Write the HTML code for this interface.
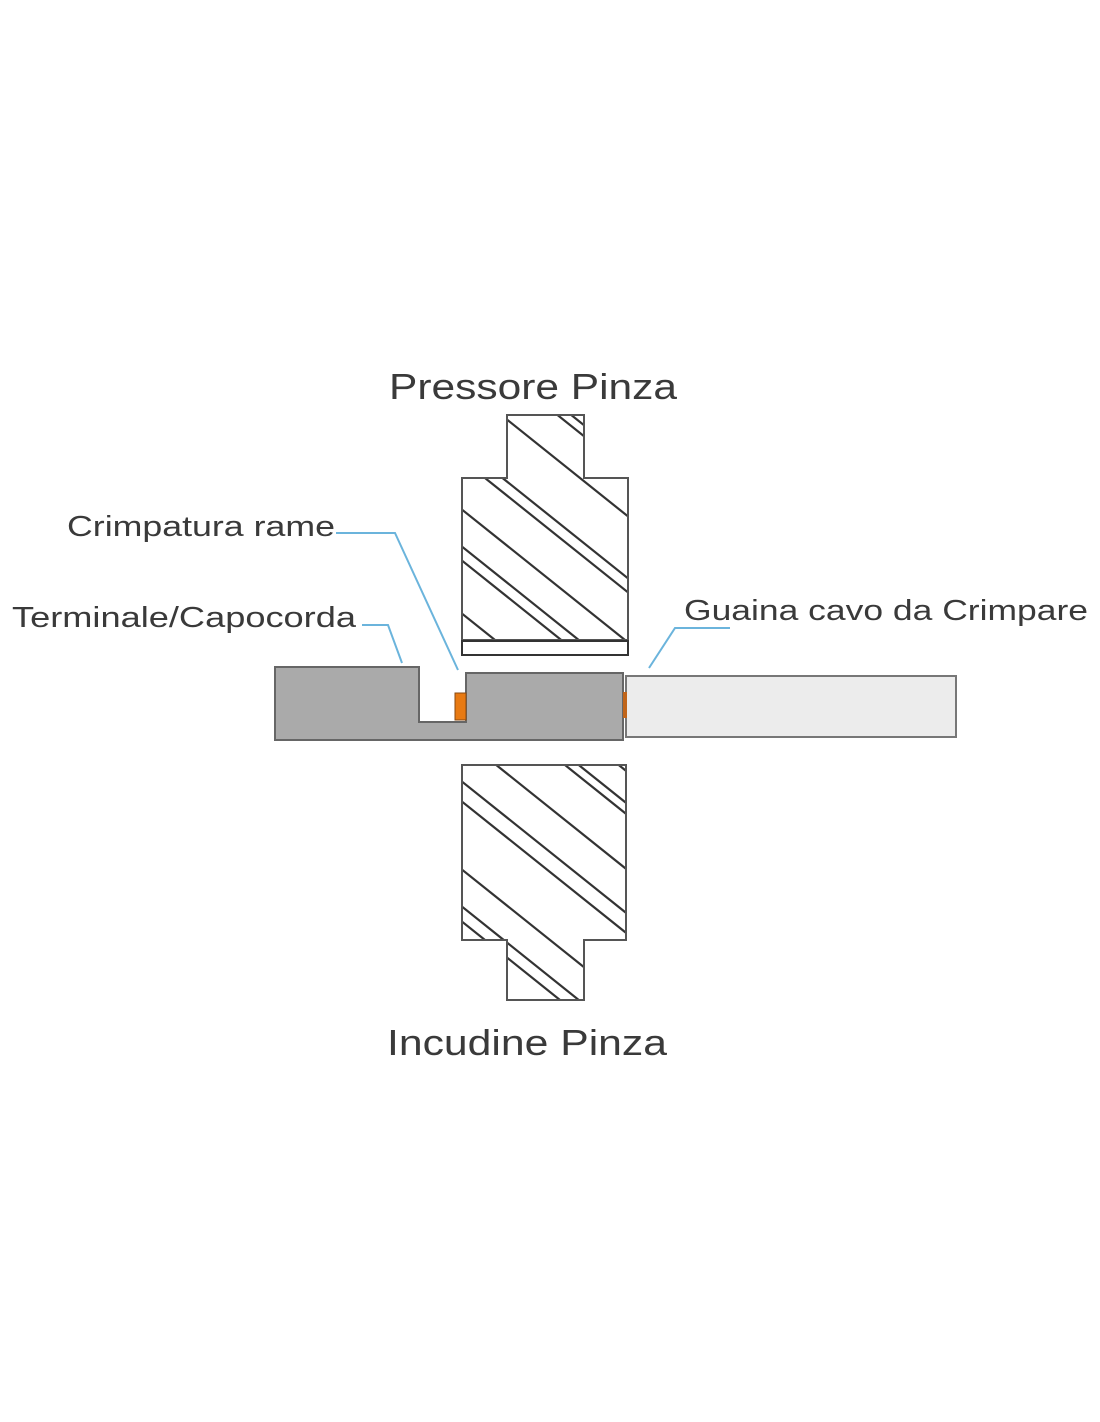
<!DOCTYPE html>
<html><head><meta charset="utf-8"><style>
html,body{margin:0;padding:0;background:#fff;}
svg{display:block;}
text{font-family:"Liberation Sans",sans-serif;fill:#3a3a3a;}
</style></head><body>
<svg width="1100" height="1422" viewBox="0 0 1100 1422" xmlns="http://www.w3.org/2000/svg">
<defs>
<clipPath id="up"><polygon points="507,415 584,415 584,478 628,478 628,640 462,640 462,478 507,478"/></clipPath>
<clipPath id="dn"><polygon points="462,765 626,765 626,940 584,940 584,1000 507,1000 507,940 462,940"/></clipPath>
</defs>
<rect width="1100" height="1422" fill="#fff"/>

<text x="389" y="399" font-size="36" textLength="288" lengthAdjust="spacingAndGlyphs">Pressore Pinza</text>
<text x="387" y="1055" font-size="36" textLength="280" lengthAdjust="spacingAndGlyphs">Incudine Pinza</text>
<text x="67" y="536" font-size="29" textLength="268" lengthAdjust="spacingAndGlyphs">Crimpatura rame</text>
<text x="12" y="627" font-size="29" textLength="344" lengthAdjust="spacingAndGlyphs">Terminale/Capocorda</text>
<text x="684" y="620" font-size="29" textLength="404" lengthAdjust="spacingAndGlyphs">Guaina cavo da Crimpare</text>

<!-- upper pressor -->
<g clip-path="url(#up)" stroke="#333" stroke-width="2.2">
<line x1="400" y1="278" x2="700" y2="518"/>
<line x1="400" y1="289" x2="700" y2="529"/>
<line x1="400" y1="334" x2="700" y2="574"/>
<line x1="400" y1="396" x2="700" y2="636"/>
<line x1="400" y1="410" x2="700" y2="650"/>
<line x1="400" y1="460" x2="700" y2="700"/>
<line x1="400" y1="497" x2="700" y2="737"/>
<line x1="400" y1="511" x2="700" y2="751"/>
<line x1="400" y1="564" x2="700" y2="804"/>
</g>
<polygon points="507,415 584,415 584,478 628,478 628,640 462,640 462,478 507,478" fill="none" stroke="#555" stroke-width="2"/>
<rect x="462" y="641" width="166" height="14" fill="#fff" stroke="#333" stroke-width="2"/>

<!-- lower anvil -->
<g clip-path="url(#dn)" stroke="#333" stroke-width="2.2">
<line x1="400" y1="590" x2="700" y2="830"/>
<line x1="400" y1="622" x2="700" y2="862"/>
<line x1="400" y1="633" x2="700" y2="873"/>
<line x1="400" y1="688" x2="700" y2="928"/>
<line x1="400" y1="732" x2="700" y2="972"/>
<line x1="400" y1="752" x2="700" y2="992"/>
<line x1="400" y1="820" x2="700" y2="1060"/>
<line x1="400" y1="857" x2="700" y2="1097"/>
<line x1="400" y1="872" x2="700" y2="1112"/>
</g>
<polygon points="462,765 626,765 626,940 584,940 584,1000 507,1000 507,940 462,940" fill="none" stroke="#555" stroke-width="2"/>

<!-- cable -->
<rect x="626" y="676" width="330" height="61" fill="#ececec" stroke="#777" stroke-width="2"/>
<!-- terminal -->
<polygon points="275,667 419,667 419,722 466,722 466,673 623,673 623,740 275,740" fill="#aaaaaa" stroke="#666" stroke-width="2"/>
<rect x="455" y="693" width="11" height="27" fill="#e87a12" stroke="#8a4a10" stroke-width="1"/>
<rect x="623" y="692" width="4" height="26" fill="#c0651a"/>

<!-- leaders -->
<g fill="none" stroke="#6bb4dc" stroke-width="2">
<polyline points="336,533 395,533 458,670"/>
<polyline points="362,625 388,625 402,663"/>
<polyline points="730,628 675,628 649,668"/>
</g>
</svg>
</body></html>
